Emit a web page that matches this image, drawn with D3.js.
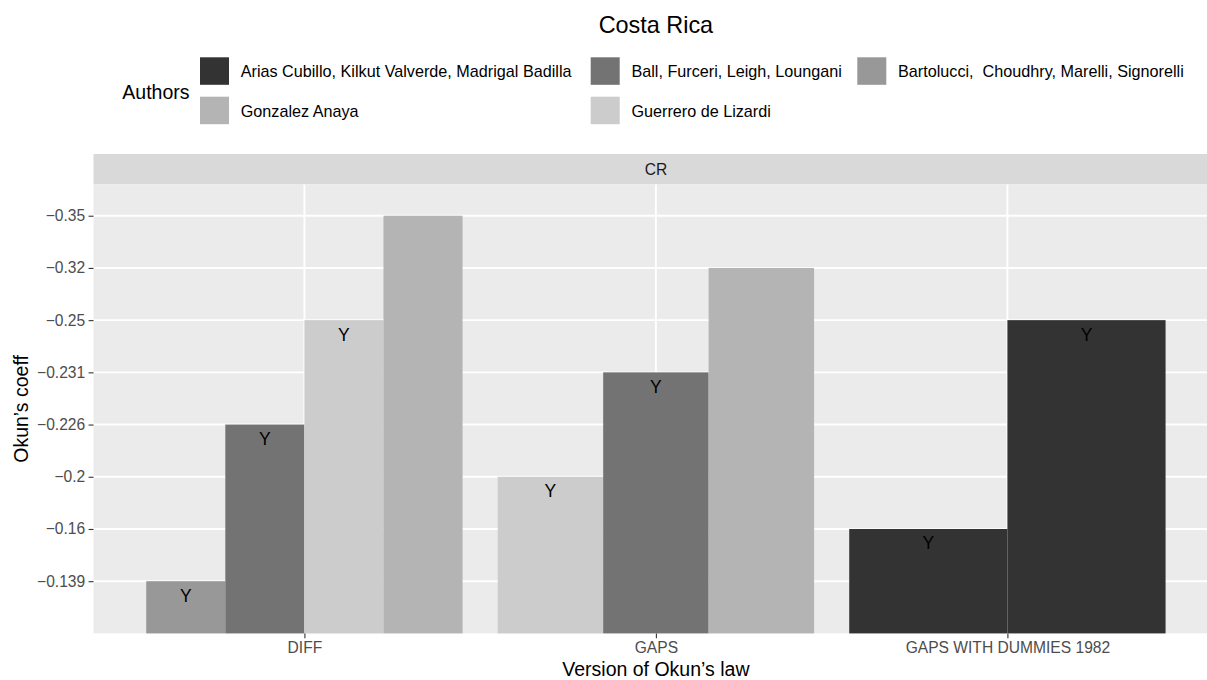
<!DOCTYPE html>
<html>
<head>
<meta charset="utf-8">
<script src="https://cdn.jsdelivr.net/npm/d3@7"></script>
<style>
  html, body { margin: 0; padding: 0; background: #ffffff; overflow: hidden; }
  svg { display: block; font-family: "Liberation Sans", Arial, Helvetica, sans-serif; }
</style>
</head>
<body>
<svg id="chart" width="1207" height="680"></svg>
<script>
// ---- data ----
const versions = ["DIFF", "GAPS", "GAPS WITH DUMMIES 1982"];
const authors = [
  "Arias Cubillo, Kilkut Valverde, Madrigal Badilla",
  "Ball, Furceri, Leigh, Loungani",
  "Bartolucci,  Choudhry, Marelli, Signorelli",
  "Gonzalez Anaya",
  "Guerrero de Lizardi"
];
const authorColors = ["#333333", "#737373", "#989898", "#B4B4B4", "#CCCCCC"];
// discrete y levels (bottom to top) and their tick labels
const coeffLevels = [-0.139, -0.16, -0.2, -0.226, -0.231, -0.25, -0.32, -0.35];
const coeffTickLabels = ["\u22120.139", "\u22120.16", "\u22120.2", "\u22120.226", "\u22120.231", "\u22120.25", "\u22120.32", "\u22120.35"];
// observations (in dodge order within each version)
const obsVersion = ["DIFF", "DIFF", "DIFF", "DIFF", "GAPS", "GAPS", "GAPS", "GAPS WITH DUMMIES 1982", "GAPS WITH DUMMIES 1982"];
const obsAuthor = [
  "Bartolucci,  Choudhry, Marelli, Signorelli",
  "Ball, Furceri, Leigh, Loungani",
  "Guerrero de Lizardi",
  "Gonzalez Anaya",
  "Guerrero de Lizardi",
  "Ball, Furceri, Leigh, Loungani",
  "Gonzalez Anaya",
  "Arias Cubillo, Kilkut Valverde, Madrigal Badilla",
  "Arias Cubillo, Kilkut Valverde, Madrigal Badilla"
];
const obsCoeff = [-0.139, -0.226, -0.25, -0.35, -0.2, -0.231, -0.32, -0.16, -0.25];
const obsLabel = ["Y", "Y", "Y", "", "Y", "Y", "", "Y", "Y"];
const chartTitle = "Costa Rica";
const stripLabel = "CR";
const legendTitle = "Authors";
const xTitle = "Version of Okun\u2019s law";
const yTitle = "Okun\u2019s coeff";

// ---- layout ----
const svg = d3.select("#chart");
const panel = { left: 93.5, right: 1218.3, top: 184.4, bottom: 633.4 };
const strip = { top: 154, bottom: 184.4 };
const centerX = (panel.left + panel.right) / 2;

const x = d3.scaleBand().domain(versions).range([panel.left, panel.right])
  .paddingInner(0).paddingOuter(0.1);
const y = d3.scaleLinear().domain([0, coeffLevels.length + 0.6]).range([panel.bottom, panel.top]);
const color = d3.scaleOrdinal().domain(authors).range(authorColors);
const levelIndex = v => coeffLevels.indexOf(v) + 1;

const data = obsCoeff.map((c, i) => ({ version: obsVersion[i], author: obsAuthor[i], coeff: c, label: obsLabel[i] }));
// dodge
const groups = d3.group(data, d => d.version);
groups.forEach(arr => {
  const n = arr.length;
  const w = x.step() * 0.9 / n;
  const start = x(arr[0].version) + x.step() / 2 - x.step() * 0.9 / 2;
  arr.forEach((d, j) => { d.x0 = start + j * w; d.w = w; });
});

// title
svg.append("text").attr("x", centerX).attr("y", 33).attr("text-anchor", "middle")
  .attr("font-size", 23.4).attr("fill", "#000").text(chartTitle);

// legend
svg.append("text").attr("x", 122.3).attr("y", 98.5).attr("font-size", 19.5).attr("fill", "#000").text(legendTitle);
const colX = [200, 590.7, 857.3];
const rowY = [57.3, 96.7];
const lg = svg.append("g");
authors.forEach((a, i) => {
  const col = i % 3, row = Math.floor(i / 3);
  lg.append("rect").attr("x", colX[col]).attr("y", rowY[row]).attr("width", 29).attr("height", 27.5)
    .attr("fill", color(a));
  lg.append("text").attr("x", colX[col] + 40.7).attr("y", rowY[row] + 14 + 5.8)
    .attr("font-size", 16.2).attr("fill", "#000").attr("xml:space", "preserve").style("white-space", "pre").text(a);
});

// strip
svg.append("rect").attr("x", panel.left).attr("y", strip.top).attr("width", panel.right - panel.left)
  .attr("height", strip.bottom - strip.top).attr("fill", "#d9d9d9");
svg.append("text").attr("x", centerX).attr("y", (strip.top + strip.bottom) / 2 + 5.6).attr("text-anchor", "middle")
  .attr("font-size", 15.6).attr("fill", "#1a1a1a").text(stripLabel);

// panel background
svg.append("rect").attr("x", panel.left).attr("y", panel.top).attr("width", panel.right - panel.left)
  .attr("height", panel.bottom - panel.top).attr("fill", "#ebebeb");

// grid
const grid = svg.append("g");
coeffLevels.forEach(v => {
  grid.append("line").attr("x1", panel.left).attr("x2", panel.right)
    .attr("y1", y(levelIndex(v))).attr("y2", y(levelIndex(v)))
    .attr("stroke", "#fff").attr("stroke-width", 1.9);
});
versions.forEach(v => {
  const cx = x(v) + x.step() / 2;
  grid.append("line").attr("x1", cx).attr("x2", cx).attr("y1", panel.top).attr("y2", panel.bottom)
    .attr("stroke", "#fff").attr("stroke-width", 1.9);
});

// bars
svg.append("g").selectAll("rect").data(data).join("rect")
  .attr("x", d => d.x0).attr("width", d => d.w)
  .attr("y", d => y(levelIndex(d.coeff)))
  .attr("height", d => y(0) - y(levelIndex(d.coeff)))
  .attr("fill", d => color(d.author));

// labels
svg.append("g").selectAll("text").data(data.filter(d => d.label)).join("text")
  .attr("x", d => d.x0 + d.w / 2).attr("y", d => y(levelIndex(d.coeff)) + 20.4)
  .attr("text-anchor", "middle").attr("font-size", 17.5).attr("fill", "#000").text(d => d.label);

// y axis
const yAxis = d3.axisLeft(y).tickValues(coeffLevels.map(levelIndex))
  .tickFormat((d, i) => coeffTickLabels[i]).tickSize(4.9).tickPadding(3.4);
const ya = svg.append("g").attr("transform", `translate(${panel.left},0)`).call(yAxis);
ya.select(".domain").remove();
ya.selectAll(".tick line").attr("stroke", "#333333").attr("stroke-width", 1.1);
ya.selectAll(".tick text").attr("font-size", 15.6).attr("fill", "#4d4d4d")
  .attr("font-family", "'Liberation Sans', Arial, sans-serif");

// x axis
const xAxis = d3.axisBottom(d3.scalePoint().domain(versions)
  .range([x(versions[0]) + x.step() / 2, x(versions[versions.length - 1]) + x.step() / 2]))
  .tickSize(4.9).tickPadding(3.4);
const xa = svg.append("g").attr("transform", `translate(0,${panel.bottom})`).call(xAxis);
xa.select(".domain").remove();
xa.selectAll(".tick line").attr("stroke", "#333333").attr("stroke-width", 1.1);
xa.selectAll(".tick text").attr("font-size", 15.6).attr("fill", "#4d4d4d")
  .attr("font-family", "'Liberation Sans', Arial, sans-serif");

// axis titles
svg.append("text").attr("x", centerX).attr("y", 676).attr("text-anchor", "middle")
  .attr("font-size", 19.5).attr("fill", "#000").text(xTitle);
svg.append("text").attr("transform", `translate(27.5,${(panel.top + panel.bottom) / 2}) rotate(-90)`)
  .attr("text-anchor", "middle").attr("font-size", 19.5).attr("fill", "#000").text(yTitle);
</script>
</body>
</html>
